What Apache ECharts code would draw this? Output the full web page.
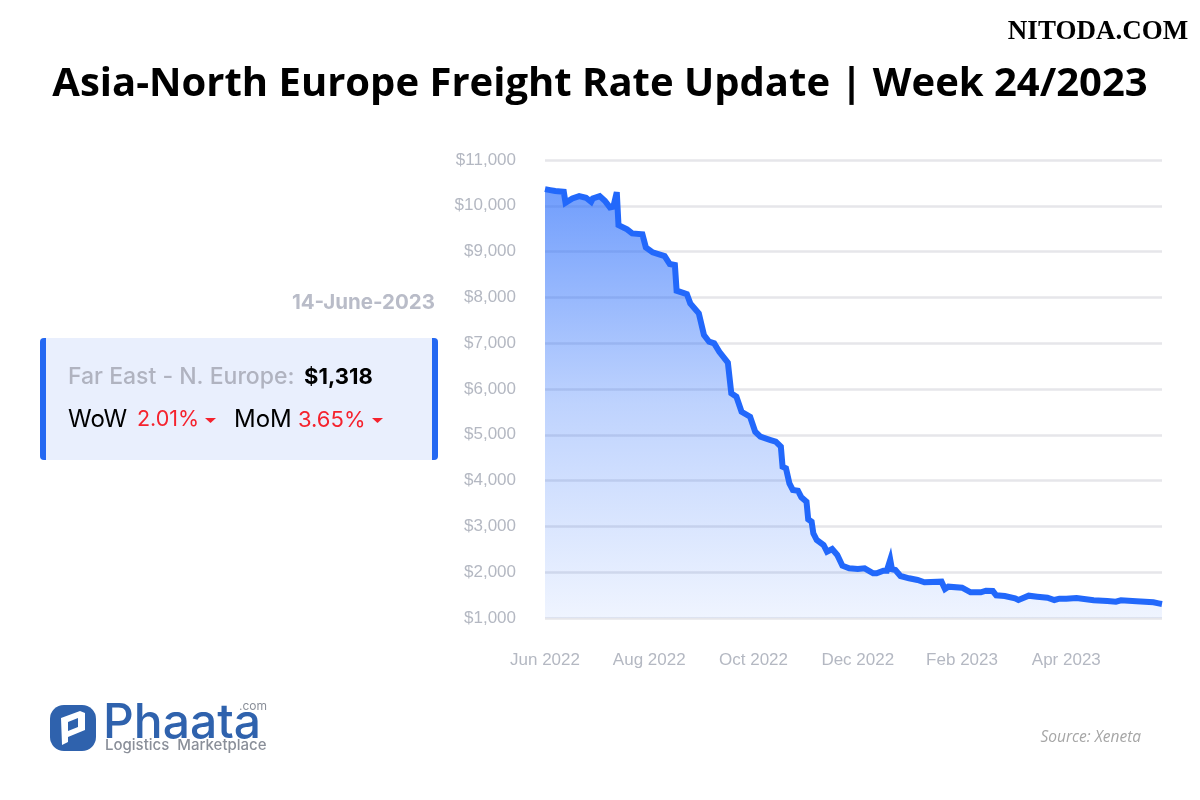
<!DOCTYPE html>
<html>
<head>
<meta charset="utf-8">
<title>Asia-North Europe Freight Rate Update</title>
<script src="https://cdn.jsdelivr.net/npm/echarts@6/dist/echarts.min.js"></script>
<style>
	html,body{margin:0;padding:0;background:#fff;}
	#main{width:1200px;height:800px;}
</style>
</head>
<body>
<div id="main"></div>
<script>
// days counted from 1 Jun 2022
var days = [0,3,6,11,12,16,20,24,27,28,32,35,38,40,42,43,48,51,57,59,63,70,73,76,77,83,85,90,93,96,99,102,107,109,112,115,120,123,126,132,135,138,139,141,143,145,148,150,153,154,156,157,159,163,165,168,171,174,178,183,187,192,194,198,200,202,203,205,208,213,218,222,232,234,236,244,249,255,258,262,264,269,275,277,278,283,288,294,298,301,305,306,311,321,329,334,337,346,356,359,361];
var rates = [10365,10343,10322,10307,10067,10161,10212,10176,10088,10161,10212,10110,9965,9979,10300,9579,9485,9398,9376,9092,8983,8902,8728,8706,8146,8073,7870,7652,7178,7032,6997,6814,6573,5905,5832,5504,5395,5067,4958,4886,4849,4740,4303,4267,3940,3794,3780,3635,3539,3155,3103,2849,2703,2594,2448,2506,2375,2142,2085,2070,2085,1976,1976,2033,2033,2270,2063,2048,1917,1867,1830,1779,1793,1633,1684,1662,1561,1561,1597,1589,1495,1480,1430,1393,1430,1487,1465,1443,1393,1422,1422,1451,1437,1386,1371,1356,1386,1364,1343,1320,1306];
var xTickLabels = ['Jun 2022','Aug 2022','Oct 2022','Dec 2022','Feb 2023','Apr 2023'];
var xTickStep = 61;

var titleText = 'Asia-North Europe Freight Rate Update | Week 24/2023';
var cardFont = 'Inter, Lato, sans-serif';

function makeText(x, y, text, font, color, align, extra){
	var style = {x:x, y:y, text:text, font:font, fill:color, textAlign:align || 'left', textVerticalAlign:'middle'};
	for(var k in extra){
		style[k] = extra[k];
	}
	return {type:'text', silent:true, z:20, style:style};
}

function makeRect(x, y, w, h, r, color){
	return {type:'rect', silent:true, z:10, shape:{x:x, y:y, width:w, height:h, r:r}, style:{fill:color}};
}

function makeTriangle(x, y){
	return {type:'polygon', silent:true, z:20, shape:{points:[[x,y],[x+11,y],[x+5.5,y+5]]}, style:{fill:'#f5222d'}};
}

var graphics = [
	makeText(600, 85, titleText, 'bold 40px "Open Sans"', '#000', 'center'),
	makeText(1098, 32, 'NITODA.COM', 'bold 27px "Liberation Serif"', '#000', 'center', {stroke:'#fff', lineWidth:1}),
	makeText(435, 303, '14-June-2023', 'bold 20.5px ' + cardFont, '#b9bcc8', 'right'),
	makeRect(40, 338, 398, 122, 4, '#e9effd'),
	makeRect(40, 338, 6, 122, [4,0,0,4], '#2468f2'),
	makeRect(432, 338, 6, 122, [0,4,4,0], '#2468f2'),
	makeText(68, 377, 'Far East - N. Europe:', '500 23px ' + cardFont, '#b0b3c0'),
	makeText(304, 377, '$1,318', 'bold 22px ' + cardFont, '#000'),
	makeText(68, 420, 'WoW', '24px ' + cardFont, '#000'),
	makeText(137, 420, '2.01%', '21.5px ' + cardFont, '#f5222d'),
	makeTriangle(205, 418),
	makeText(234, 420, 'MoM', '24px ' + cardFont, '#000'),
	makeText(298, 420, '3.65%', '22px ' + cardFont, '#f5222d'),
	makeTriangle(372, 418),
	makeRect(50, 705, 46, 46, 14, '#2f62ad'),
	{type:'polygon', silent:true, z:20, shape:{points:[[61,718],[80,711],[85,713],[85,730],[68,737],[68,742],[62,745]]}, style:{fill:'#fff'}},
	{type:'polygon', silent:true, z:21, shape:{points:[[68,722],[78,718],[78,727],[68,731]]}, style:{fill:'#2f62ad'}},
	makeText(103, 724, 'Phaata', '500 48px ' + cardFont, '#2f62ad'),
	makeText(267, 706, '.com', '12px ' + cardFont, '#8a8f99', 'right'),
	makeText(105, 745, 'Logistics  Marketplace', '500 15px ' + cardFont, '#8a8f99'),
	makeText(1141, 738, 'Source: Xeneta', 'italic 15.5px "Open Sans"', '#a6a6a6', 'right')
];

var chartData = [];
for(var i=0;i<days.length;i++){
	chartData.push([days[i], rates[i]]);
}

var myChart = echarts.init(document.getElementById('main'), null, {renderer:'canvas'});
var option = {
	animation:false,
	backgroundColor:'#fff',
	graphic:graphics,
	grid:{left:545, right:38, top:160, bottom:182},
	xAxis:{
		type:'value',
		min:0,
		max:361,
		interval:xTickStep,
		axisLine:{show:false},
		axisTick:{show:false},
		splitLine:{show:false},
		axisLabel:{
			color:'#b4b8c2',
			fontFamily:'"Liberation Sans"',
			fontSize:17,
			margin:34,
			showMaxLabel:false,
			formatter:function(value){
				return xTickLabels[value/xTickStep] || '';
			}
		}
	},
	yAxis:{
		type:'value',
		min:1000,
		max:11000,
		interval:1000,
		axisLine:{show:false},
		axisTick:{show:false},
		splitLine:{lineStyle:{color:'#e6e6ea', width:2.5}},
		axisLabel:{
			color:'#b4b8c2',
			fontFamily:'"Liberation Sans"',
			fontSize:17,
			margin:29,
			formatter:function(value){
				return '$' + value.toLocaleString('en-US');
			}
		}
	},
	series:[{
		type:'line',
		data:chartData,
		symbol:'none',
		clip:false,
		lineStyle:{color:'#2268fb', width:6, join:'miter', miterLimit:5},
		areaStyle:{
			color:new echarts.graphic.LinearGradient(0,0,0,1,[
				{offset:0, color:'rgba(34,104,251,0.92)'},
				{offset:0.5, color:'rgba(34,104,251,0.42)'},
				{offset:1, color:'rgba(34,104,251,0.1)'}
			])
		}
	}]
};
myChart.setOption(option);
</script>
</body>
</html>
